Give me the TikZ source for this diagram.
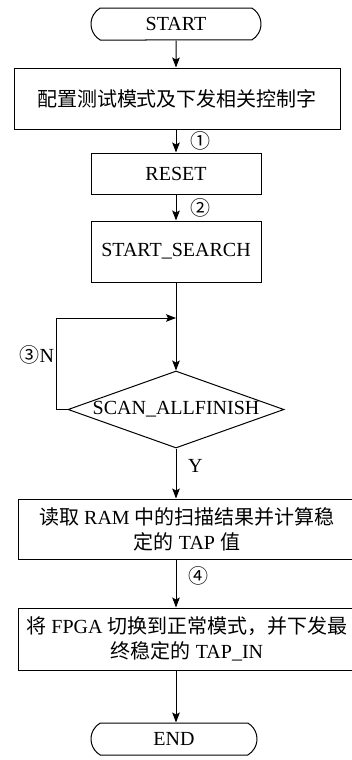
\documentclass[tikz,border=0pt]{standalone}
\usepackage{fontspec}
\setmainfont{Liberation Serif}
\newfontfamily\cjk{Noto Sans CJK SC}
\usepackage{tikz}
\usetikzlibrary{shapes.misc,shapes.geometric,arrows.meta,calc,positioning}
\tikzset{
  terminal/.style={rounded rectangle, rounded rectangle arc length=120, draw,
    minimum width=85pt, minimum height=16pt, inner sep=0pt},
  procbox/.style={rectangle, draw, align=center, inner sep=0pt},
  decide/.style={diamond, draw, minimum width=108pt, minimum height=38.5pt, inner sep=0pt},
  arw/.style={-{Stealth[length=5pt,width=3.8pt,inset=1pt]}},
}
\begin{document}
\begin{tikzpicture}[x=0.5pt, y=-0.5pt, line width=0.5pt,
    font=\fontsize{10}{12.5}\selectfont]
  \useasboundingbox (0,0) rectangle (352,760);
  % START
  \node[terminal] (start) at (176,24) {START};
  % configuration
  \node[procbox, minimum width=163pt, minimum height=30.5pt] (cfg) at (177,98.5)
    {\cjk 配置测试模式及下发相关控制字};
  % RESET and START_SEARCH
  \node[procbox, minimum width=85pt, minimum height=20.5pt] (reset) at (176,173.5) {RESET};
  \node[procbox, minimum width=85pt, minimum height=30.5pt] (search) at (176,251.5) {START\_SEARCH};
  % check
  \node[decide] (chk) at (176,409.5) {\makebox[0pt]{SCAN\_ALLFINISH}};
  % read RAM
  \node[procbox, minimum width=169pt, minimum height=30pt] (read) at (187,529)
    {{\cjk 读取} RAM {\cjk 中的扫描结果并计算稳}\\{\cjk 定的} TAP {\cjk 值}};
  % FPGA normal mode
  \node[procbox, minimum width=169pt, minimum height=31pt] (fpga) at (187,639)
    {{\cjk 将} FPGA {\cjk 切换到正常模式，并下发最}\\{\cjk 终稳定的} TAP\_IN};
  % END
  \node[terminal, minimum width=83pt] (end) at (174,739) {END};
  % lines
  \coordinate (join) at (176,318);
  \draw[arw] (start) -- (start |- cfg.north);
  \draw[arw] (cfg.south -| reset) -- node[right=3.5pt] (l1) {\cjk ①} (reset);
  \draw[arw] (reset) -- node[right=3.5pt] (l2) {\cjk ②} (search);
  \draw[arw] (search) -- (chk.north);
  \draw[arw] (chk.west) -- ++(-11,0) |- node[left, pos=0.3, inner sep=1pt] (l3) {{\cjk ③}N} (join);
  \draw[arw] (chk.south) -- node[right=2.5pt, pos=0.35] (ly) {Y} (chk.south |- read.north);
  \draw[arw] (read.south -| chk.south) -- node[right=2.5pt, pos=0.35] (l4) {\cjk ④} (chk.south |- fpga.north);
  \draw[arw] (fpga.south -| chk.south) -- (chk.south |- end.north);
\end{tikzpicture}
\end{document}
